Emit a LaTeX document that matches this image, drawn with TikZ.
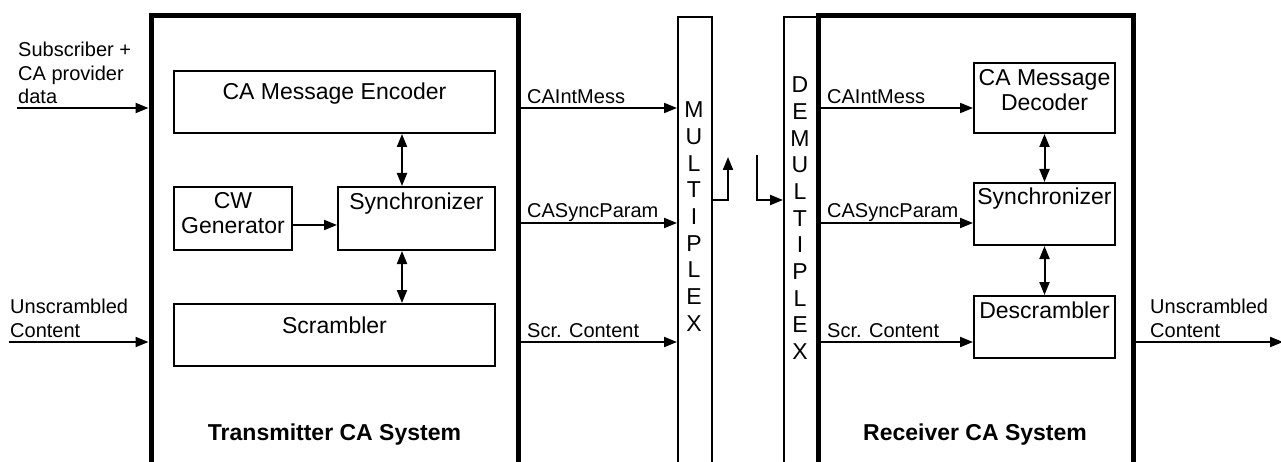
\documentclass[tikz,border=0pt]{standalone}
\usepackage{fontspec}
\setmainfont{Liberation Sans}
\usetikzlibrary{arrows.meta}
\begin{document}
\begin{tikzpicture}[x=1pt,y=-1pt,
  box/.style={draw,line width=2pt,inner sep=0pt,anchor=north west,font=\fontsize{23}{25}\selectfont},
  frame/.style={draw,line width=5pt,inner sep=0pt,anchor=north west,minimum height=520pt},
  muxbox/.style={draw,line width=1.7pt,inner sep=0pt,anchor=north west,minimum height=520pt},
  arr/.style={line width=2pt,-{Triangle[length=13pt,width=10pt]}},
  darr/.style={line width=2pt,{Triangle[length=13pt,width=10pt]}-{Triangle[length=13pt,width=10pt]}},
  lbl/.style={font=\fontsize{20}{23.5}\selectfont,inner sep=0pt,anchor=base west,align=left},
  letters/.style={font=\fontsize{23}{26.65}\selectfont,inner sep=0pt,anchor=north,align=center},
  title/.style={font=\bfseries\fontsize{23}{26}\selectfont,inner sep=0pt,anchor=base}]
\useasboundingbox (0,0) rectangle (1281,462);
\clip (0,0) rectangle (1281,462);

% frames
\node[frame,minimum width=367pt] (tx) at (148.5,13.5) {};
\node[frame,minimum width=315pt] (rx) at (815.5,13.5) {};
\node[muxbox,minimum width=34pt] (mux) at (677,16) {};
\node[muxbox,minimum width=35pt] (demux) at (783,16) {};

% transmitter boxes
\node[box,minimum width=321pt,minimum height=62pt,text height=29pt,text depth=33pt] (enc) at (173,70) {CA Message Encoder};
\node[box,minimum width=118pt,minimum height=63pt,text height=47pt,text depth=16pt,align=center] (cw) at (173,186) {CW\\Generator};
\node[box,minimum width=157pt,minimum height=63pt,text height=23pt,text depth=40pt] (sync) at (337,186) {Synchronizer};
\node[box,minimum width=321pt,minimum height=62pt,text height=29pt,text depth=33pt] (scr) at (173,303) {Scrambler};

% receiver boxes
\node[box,minimum width=141pt,minimum height=70pt,text height=48pt,text depth=22pt,align=center] (dec) at (973,62) {CA Message\\Decoder};
\node[box,minimum width=141pt,minimum height=62pt,text height=22pt,text depth=40pt] (rsync) at (973,182) {Synchronizer};
\node[box,minimum width=141pt,minimum height=62pt,text height=22pt,text depth=40pt] (desc) at (973,295) {Descrambler};

% multiplex letters
\node[letters] (muxtxt) at (694,101.8) {M\\U\\L\\T\\I\\P\\L\\E\\X};
\node[letters] (demuxtxt) at (800,76.8) {D\\E\\M\\U\\L\\T\\I\\P\\L\\E\\X};

% titles
\node[title] (ttitle) at (334.5,440) {Transmitter CA System};
\node[title] (rtitle) at (975,440) {Receiver CA System};

% levels
\coordinate (yA) at (0,108);
\coordinate (yB) at (0,223);
\coordinate (yC) at (0,342);
\coordinate (yM) at (0,200);
\coordinate (inA) at (17,108);
\coordinate (inC) at (9,342);
\coordinate (outC) at (1283,342);
\coordinate (mUp) at (728,157);
\coordinate (dDown) at (757,155);

% inputs
\node[lbl] (lsub) at (18,104) {Subscriber +\\CA provider\\data};
\node[lbl] (lun1) at (10,337) {Unscrambled\\Content};
\draw[arr] (inA) -- (tx.west |- yA);
\draw[arr] (inC) -- (tx.west |- yC);

% transmitter internal
\draw[darr] ([xshift=-14.5pt]sync.north) -- ([xshift=-14.5pt]sync.north |- enc.south);
\draw[darr] ([xshift=-14.5pt]sync.south) -- ([xshift=-14.5pt]sync.south |- scr.north);
\draw[arr] ([yshift=-6.5pt]cw.east) -- ([yshift=-6.5pt]cw.east -| sync.west);

% transmitter outputs
\node[lbl] (lt1) at (527,104) {CAIntMess};
\node[lbl] (lt2) at (527,218) {CASyncParam};
\node[lbl] (lt3) at (527,337) {Scr. Content};
\draw[arr] (tx.east |- yA) -- (mux.west |- yA);
\draw[arr] (tx.east |- yB) -- (mux.west |- yB);
\draw[arr] (tx.east |- yC) -- (mux.west |- yC);

% middle
\draw[arr] (mux.east |- yM) -| (mUp);
\draw[arr] (dDown) |- (demux.west |- yM);

% receiver inputs
\node[lbl] (lr1) at (827,104) {CAIntMess};
\node[lbl] (lr2) at (827,218) {CASyncParam};
\node[lbl] (lr3) at (827,337) {Scr. Content};
\draw[arr] (rx.west |- yA) -- (dec.west |- yA);
\draw[arr] (rx.west |- yB) -- (rsync.west |- yB);
\draw[arr] (rx.west |- yC) -- (desc.west |- yC);

% receiver internal
\draw[darr] (dec.south) -- (rsync.north);
\draw[darr] (rsync.south) -- (desc.north);

% output
\node[lbl] (lun2) at (1150,337) {Unscrambled\\Content};
\draw[arr] (rx.east |- yC) -- (outC);
\end{tikzpicture}
\end{document}
